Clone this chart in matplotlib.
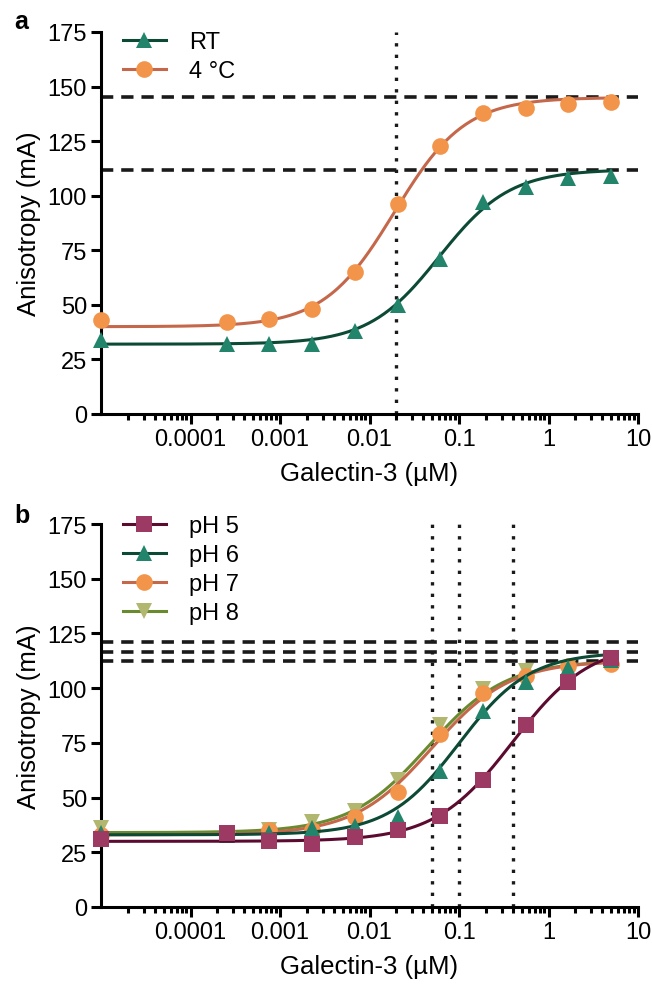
import numpy as np
import matplotlib.pyplot as plt
from matplotlib.ticker import FixedLocator, FixedFormatter, NullFormatter

plt.rcParams['font.family'] = ['Liberation Sans', 'DejaVu Sans']
plt.rcParams['font.size'] = 17

# Galectin-3 concentrations (uM); the no-protein point sits at the left edge (1e-5)
conc = [1e-5, 0.000254, 0.000762, 0.00229, 0.00686, 0.0206, 0.0617, 0.185, 0.556, 1.667, 5.0]

# panel a: anisotropy (mA)
rt = [34, 32, 32, 32, 38, 50, 71, 97, 104, 108, 109]
cold = [43, 42, 43.5, 48, 65, 96, 123, 138, 140, 142, 143]

# panel b: anisotropy (mA)
ph5 = [31, 34, 30, 29, 32, 35, 41.5, 58, 83, 103, 114]
ph6 = [34, 33, 34, 36, 37, 41, 62, 89.5, 103, 109, 113]
ph7 = [33, 34, 35, 35, 41, 52.5, 79, 98, 105.5, 110, 111]
ph8 = [36, 34, 35, 39, 44, 58, 83, 99.5, 108, 109, 112]

# fitted curves: bottom, top, EC50 (uM), hill slope
fit_rt = [32, 112, 0.06, 1.1]
fit_cold = [40, 145, 0.019, 1.1]
fit_ph5 = [30, 121, 0.4, 1.0]
fit_ph6 = [33, 116.5, 0.1, 1.1]
fit_ph7 = [33, 112.5, 0.05, 1.0]
fit_ph8 = [34, 112.5, 0.045, 1.0]

# reference lines
hlines_a = [145, 112]
vlines_a = [0.02]
hlines_b = [121, 116.5, 112.5]
vlines_b = [0.05, 0.1, 0.4]

xticks = [1e-4, 1e-3, 1e-2, 1e-1, 1, 10]
xticklabels = ['0.0001', '0.001', '0.01', '0.1', '1', '10']

teal, teal_line = '#22846a', '#0c4a36'
orange, orange_line = '#f29449', '#c4674a'
plum, plum_line = '#9c3a63', '#5c0b30'
olive, olive_line = '#b2b76f', '#6a8a30'


def hill(x, p):
    b, t, ec, h = p
    return b + (t - b) / (1 + (ec / x) ** h)


def style_axes(ax):
    ax.set_xscale('log')
    ax.set_xlim(1e-5, 10)
    ax.set_ylim(0, 175)
    ax.set_yticks(np.arange(0, 176, 25))
    ax.xaxis.set_major_locator(FixedLocator(xticks))
    ax.xaxis.set_major_formatter(FixedFormatter(xticklabels))
    minors = [m * 10.0 ** e for e in range(-5, 1) for m in range(2, 10)]
    ax.xaxis.set_minor_locator(FixedLocator(minors))
    ax.xaxis.set_minor_formatter(NullFormatter())
    for s in ['top', 'right']:
        ax.spines[s].set_visible(False)
    for s in ['left', 'bottom']:
        ax.spines[s].set_linewidth(2.2)
    ax.tick_params(axis='both', which='major', width=2.2, length=7, labelsize=17, pad=3)
    ax.tick_params(axis='x', which='minor', width=2.2, length=4.5)
    ax.set_xlabel('Galectin-3 (µM)', fontsize=18.5, labelpad=8)
    ax.set_ylabel('Anisotropy (mA)', fontsize=18.5, labelpad=5)


def draw_series(ax, y, p, marker, mcol, lcol, label, z):
    xs = np.logspace(-5, np.log10(5), 300)
    ax.plot(xs, hill(xs, p), color=lcol, lw=2.2, zorder=z, clip_on=False)
    ax.plot(conc, y, linestyle='none', marker=marker, markersize=12,
            color=mcol, markeredgewidth=0, zorder=z + 0.5, clip_on=False)
    # legend proxy: line with marker in the middle
    ax.plot([], [], color=lcol, lw=2.2, marker=marker, markersize=12,
            markerfacecolor=mcol, markeredgewidth=0, label=label)


def ref_lines(ax, hl, vl):
    for h in hl:
        ax.axhline(h, color='#1a1a1a', lw=2.6, dashes=(3.4, 2.2), zorder=1)
    for v in vl:
        ax.axvline(v, color='#1a1a1a', lw=2.4, dashes=(1, 2.45), zorder=1)


fig = plt.figure(figsize=(6.52, 9.87), dpi=100)
ax1 = fig.add_axes([101 / 652, 1 - 415 / 987, 537 / 652, 382 / 987])
ax2 = fig.add_axes([101 / 652, 1 - 908 / 987, 537 / 652, 383 / 987])

leg_kw = dict(loc='upper left', frameon=False, fontsize=17, handlelength=1.8,
              handletextpad=1.0, labelspacing=0.3, borderaxespad=0, borderpad=0,
              numpoints=1)

# panel a
ref_lines(ax1, hlines_a, vlines_a)
draw_series(ax1, rt, fit_rt, '^', teal, teal_line, 'RT', 4)
draw_series(ax1, cold, fit_cold, 'o', orange, orange_line, '4 °C', 3)
style_axes(ax1)
ax1.legend(bbox_to_anchor=(0.041, 1.003), **leg_kw)

# panel b
ref_lines(ax2, hlines_b, vlines_b)
draw_series(ax2, ph8, fit_ph8, 'v', olive, olive_line, 'pH 8', 3)
draw_series(ax2, ph7, fit_ph7, 'o', orange, orange_line, 'pH 7', 4)
draw_series(ax2, ph6, fit_ph6, '^', teal, teal_line, 'pH 6', 5)
draw_series(ax2, ph5, fit_ph5, 's', plum, plum_line, 'pH 5', 6)
style_axes(ax2)
h, l = ax2.get_legend_handles_labels()
ax2.legend(h[::-1], l[::-1], bbox_to_anchor=(0.041, 1.024), **leg_kw)

fig.text(14 / 652, 1 - 22 / 987, 'a', fontsize=18, fontweight='bold', va='center')
fig.text(14 / 652, 1 - 516 / 987, 'b', fontsize=18, fontweight='bold', va='center')

fig.savefig('out.png', dpi=100)
